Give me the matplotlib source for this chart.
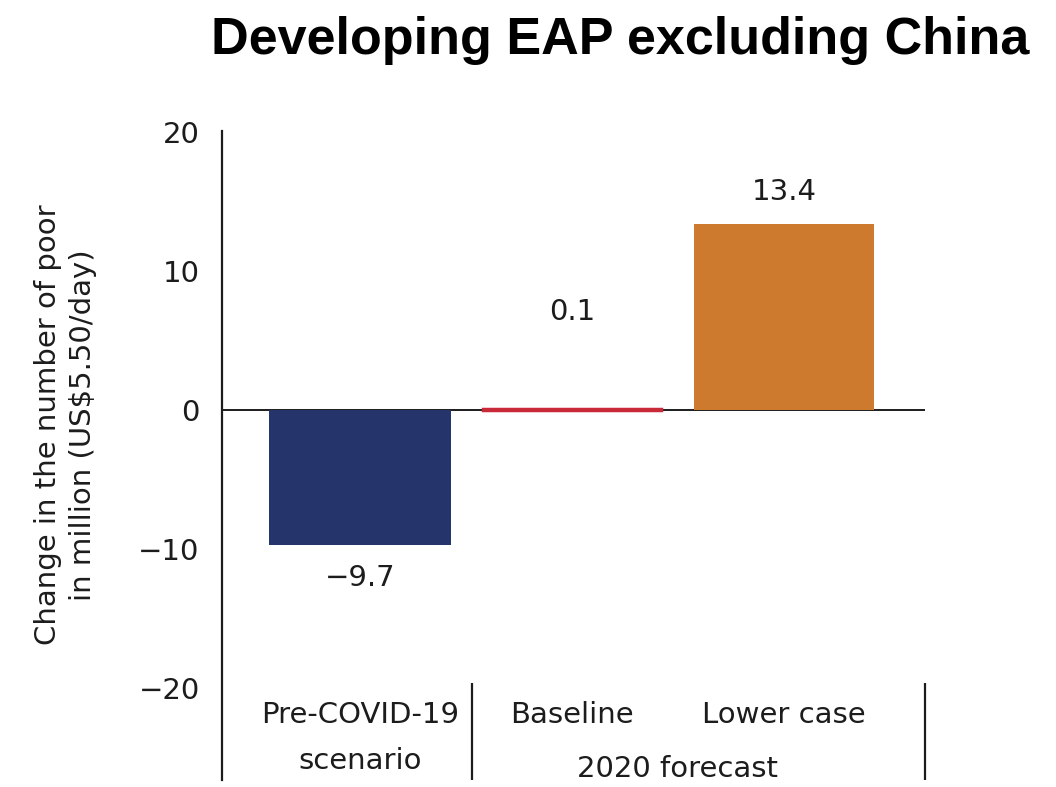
import matplotlib
matplotlib.use("Agg")
import matplotlib.pyplot as plt

# data
categories = ["Pre-COVID-19\nscenario", "Baseline", "Lower case"]
values = [-9.7, 0.1, 13.4]
value_labels = ["\u22129.7", "0.1", "13.4"]
colors = ["#25356B", "#C92A3A", "#CD7A2F"]
yticks = [-20, -10, 0, 10, 20]
ytick_labels = ["\u221220", "\u221210", "0", "10", "20"]

plt.rcParams["font.family"] = ["DejaVu Sans"]
ink = "#1c1c1c"

fig = plt.figure(figsize=(10.56, 7.87), dpi=100)
ax = fig.add_axes([0.2102, 0.0089, 0.6657, 0.8247])

x = list(range(len(categories)))
ax.bar(x[0], values[0], width=0.86, color=colors[0])
ax.bar(x[1], values[1], width=0.84, color=colors[1], edgecolor=colors[1], linewidth=2.5)
ax.bar(x[2], values[2], width=0.85, color=colors[2])
ax.axhline(0, color=ink, lw=1.4, zorder=0)

ax.set_xlim(-0.651, 2.665)
ax.set_ylim(-26.6, 20.1)
ax.set_yticks(yticks)
ax.set_yticklabels(ytick_labels)
ax.set_xticks([])
ax.tick_params(axis="y", length=0, pad=16, labelsize=21, colors=ink)

for s in ["top", "right", "bottom"]:
    ax.spines[s].set_visible(False)
ax.spines["left"].set_linewidth(1.6)
ax.spines["left"].set_color(ink)

# value labels
offsets = [-2.4, 7.0, 2.3]
for xi, v, lab, off in zip(x, values, value_labels, offsets):
    ax.text(xi, v + off, lab, ha="center", va="center", fontsize=21, color=ink)

# category labels below the axis
first, second = categories[0].split("\n")
ax.text(x[0], -21.95, first, ha="center", va="center", fontsize=21, color=ink)
ax.text(x[0], -25.2, second, ha="center", va="center", fontsize=21, color=ink)
ax.text(x[1], -21.95, categories[1], ha="center", va="center", fontsize=21, color=ink)
ax.text(x[2], -21.95, categories[2], ha="center", va="center", fontsize=21, color=ink)
ax.text((x[1] + x[2]) / 2, -25.8, "2020 forecast", ha="center", va="center", fontsize=21, color=ink)

# separators
ax.vlines([0.528, 2.665], -26.6, -19.6, color=ink, lw=1.6, clip_on=False)

fig.text(0.062, 0.46, "Change in the number of poor\nin million (US$5.50/day)", rotation=90,
         ha="center", va="center", fontsize=21, color=ink, linespacing=1.3)

fig.text(0.975, 0.948, "Developing EAP excluding China", ha="right", va="center",
         fontsize=37.5, fontweight="bold", family=["Liberation Sans"], color="black")

fig.savefig("out.png", dpi=100)
